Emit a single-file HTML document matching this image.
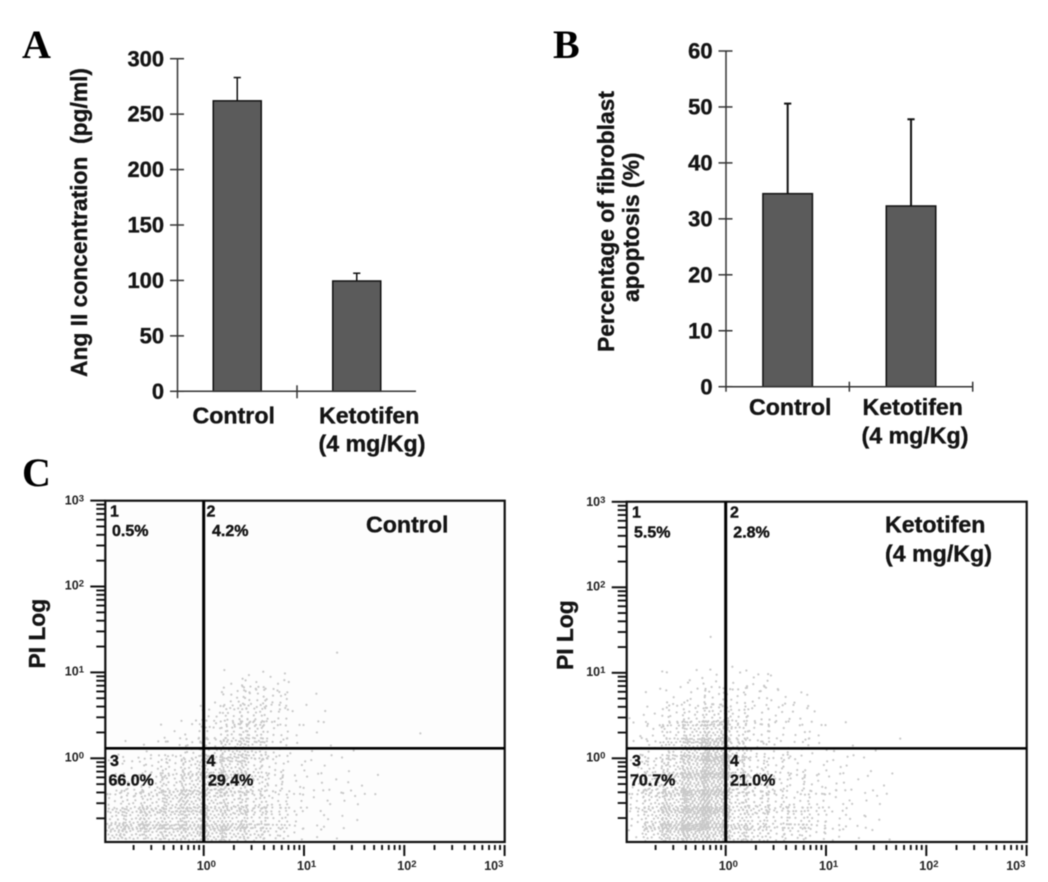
<!DOCTYPE html>
<html lang="en">
<head>
<meta charset="utf-8">
<title>Ang II concentration, fibroblast apoptosis and flow cytometry</title>
<style>
html,body{margin:0;padding:0;background:#fff;width:1048px;height:882px;overflow:hidden}
svg{display:block;filter:blur(0.45px)}
text{font-family:"Liberation Sans",Arial,sans-serif;fill:#141414;white-space:pre}
.panel{font-family:"Liberation Serif","Times New Roman",serif;font-weight:bold;font-size:40px;fill:#000}
.tick{font-weight:bold;font-size:21.9px;stroke:#141414;stroke-width:.35px}
.cat{font-weight:bold;font-size:23.2px;stroke:#141414;stroke-width:.35px}
.title{font-weight:bold;font-size:22.8px;stroke:#141414;stroke-width:.35px}
.q{font-weight:bold;font-size:16px;stroke:#141414;stroke-width:.4px}
.log{font-weight:bold;font-size:12.5px;fill:#222}
.sup{font-size:9.5px}
</style>
</head>
<body>
<svg id="figure" xmlns="http://www.w3.org/2000/svg" width="1048" height="882" viewBox="0 0 1048 882">
  <rect width="1048" height="882" fill="#fff"/>

  <text class="panel" x="22" y="58">A</text>
  <text class="panel" x="553" y="58">B</text>
  <text class="panel" x="22" y="486">C</text>

  <g id="chart-a">
    <text class="title" transform="translate(87 377) rotate(-90)">Ang II concentration  (pg/ml)</text>
    <text class="cat" x="192.5" y="423.5">Control</text>
    <text class="cat" x="319" y="423.5">Ketotifen</text>
    <text class="cat" x="318.5" y="451.5">(4 mg/Kg)</text>
  </g>

  <g id="chart-b">
    <text class="title" transform="translate(614 352) rotate(-90)">Percentage of fibroblast</text>
    <text class="title" transform="translate(639 302) rotate(-90)">apoptosis (%)</text>
    <text class="cat" x="749" y="415">Control</text>
    <text class="cat" x="862.5" y="415">Ketotifen</text>
    <text class="cat" x="861.5" y="443.5">(4 mg/Kg)</text>
  </g>

  <g id="scatter-control"></g>
  <g id="scatter-keto"></g>
</svg>

<script>
// ---------- bar chart data ----------
const barCategories = ["Control", "Ketotifen"];
const angTicks = [0, 50, 100, 150, 200, 250, 300];
const angValues = [262, 99.5];
const angErrors = [21, 7];
const apoTicks = [0, 10, 20, 30, 40, 50, 60];
const apoValues = [34.5, 32.3];
const apoErrors = [16.1, 15.5];

// ---------- flow cytometry data ----------
// Percentages as printed in each quadrant
const controlQuadrants = ["0.5%", "4.2%", "66.0%", "29.4%"];
const ketoQuadrants = ["5.5%", "2.8%", "70.7%", "21.0%"];
const quadrantIds = ["1", "2", "3", "4"];
const decadeTicks = [0, 1, 2, 3];
const minorMultipliers = [2, 3, 4, 5, 6, 7, 8, 9];
const gateLogX = 0;
const gateLogY = 0.116;
const densityStartLog = -1;
const densityBinLog = 0.2;
// Estimated event counts per 0.2-decade cell. Rows run bottom to top, columns left to right.
const controlDensity = [
  [50,40,45,50,55,60,45,40,22, 9, 3, 2, 0, 0, 0],
  [32,36,40,45,48,52,38,32,18, 8, 3, 3, 1, 0, 0],
  [16,24,32,40,48,42,34,26,15, 8, 5, 3, 3, 1, 0],
  [ 8,12,20,28,42,38,40,24,12, 6, 4, 4, 4, 1, 0],
  [ 5, 8,12,18,34,30,44,26,12, 5, 3, 2, 2, 0, 0],
  [ 1, 3, 6, 9,15,20,42,36,11, 3, 2, 1, 1, 0, 0],
  [ 0, 0, 1, 3, 6,12,24,28,13, 2, 2, 0, 0, 0, 0],
  [ 0, 0, 0, 0, 2, 9,20,24,13, 2, 2, 0, 0, 0, 0],
  [ 0, 0, 0, 0, 0, 3,14,18,14, 2, 1, 0, 0, 0, 0],
  [ 0, 0, 0, 0, 0, 0, 3, 7, 6, 1, 0, 0, 0, 0, 0]
];
const ketoDensity = [
  [ 6,36,65,90,80,44,30,20,20,14, 7, 2, 1, 0, 0],
  [12,40,65,100,90,38,26,20,20,14, 8, 4, 3, 0, 0],
  [16,38,55,85,85,34,26,18,12,11, 7, 3, 3, 0, 0],
  [12,32,48,75,90,34,20,15, 9, 9, 6, 4, 2, 0, 0],
  [ 9,26,40,65,100,28,18,12, 8, 5, 5, 3, 2, 1, 0],
  [ 5,14,28,55,90,28,12, 9, 7, 4, 2, 1, 1, 0, 0],
  [ 4, 9,22,40,55,28,12, 8, 6, 4, 1, 0, 0, 0, 0],
  [ 3, 6,12,18,30,18, 9, 7, 6, 2, 0, 0, 0, 0, 0],
  [ 1, 3, 6, 9,12,12, 9, 6, 3, 1, 0, 0, 0, 0, 0],
  [ 0, 1, 2, 3, 5, 5, 7, 3, 0, 0, 0, 0, 0, 0, 0],
  [ 0, 0, 0, 0, 1, 2, 1, 0, 0, 0, 0, 0, 0, 0, 0]
];
// Isolated events, as [log x, log y]
const controlOutliers = [[1.33, 1.23], [2.16, 0.29]];
const ketoOutliers = [[-0.15, 1.42], [1.74, 0.23]];

const NS = "http://www.w3.org/2000/svg";
function mk(tag, attrs, parent, txt) {
  const el = document.createElementNS(NS, tag);
  for (const k in attrs) el.setAttribute(k, attrs[k]);
  if (txt !== undefined) el.textContent = txt;
  parent.appendChild(el);
  return el;
}

function drawBars(host, suffix, o, ticks, values, errors) {
  const g = document.getElementById(host);
  const y = v => o.y0 - (v / ticks[ticks.length - 1]) * (o.y0 - o.yTop);
  const band = (o.xEnd - o.x0) / barCategories.length;
  const cx = i => o.x0 + band * (i + 0.5);

  barCategories.forEach((name, i) => {
    const top = y(values[i]);
    const errTop = y(values[i] + errors[i]);
    const stem = mk("line", {x1: cx(i), x2: cx(i), y1: top, y2: errTop, stroke: "#111", "stroke-width": o.err}, g);
    
    
    const cap = mk("line", {x1: cx(i) - 3.6, x2: cx(i) + 3.6, y1: errTop, y2: errTop, stroke: "#111", "stroke-width": o.err}, g);
    
    
    const bar = mk("rect", {x: cx(i) - o.bw / 2, y: top, width: o.bw, height: o.y0 - top, fill: "#5b5b5b", stroke: "#111", "stroke-width": 1.5}, g);
    
    
  });

  const yAxis = mk("line", {x1: o.x0, x2: o.x0, y1: y(ticks[ticks.length - 1]), y2: o.y0 + o.tickDown, stroke: "#333", "stroke-width": 1.5}, g);
  
  
  const xAxis = mk("line", {x1: o.x0, x2: o.xAxisEnd, y1: o.y0, y2: o.y0, stroke: "#333", "stroke-width": 1.5}, g);
  
  

  ticks.forEach(t => {
    const mark = mk("line", {x1: o.x0 - 7.5, x2: o.x0 + 6.5, y1: y(t), y2: y(t), stroke: "#333", "stroke-width": 1.5}, g);
    
    
    const label = mk("text", {class: "tick", x: o.x0 - 13.5, y: y(t) + 7.6, "text-anchor": "end"}, g, String(t));
    
    
  });

  for (let i = 1; i <= barCategories.length; i++) {
    if (i === barCategories.length && !o.endTick) continue;
    const px = o.x0 + band * i;
    const mark = mk("line", {x1: px, x2: px, y1: o.y0 - o.tickUp, y2: o.y0 + o.tickDown, stroke: "#333", "stroke-width": 1.5}, g);
    
    
  }
}

drawBars("chart-a", "a", {x0: 177.5, xEnd: 416.5, xAxisEnd: 416, y0: 391.3, yTop: 58.7, bw: 48, err: 1.5, tickUp: 6, tickDown: 7, endTick: false}, angTicks, angValues, angErrors);
drawBars("chart-b", "b", {x0: 726, xEnd: 972.7, xAxisEnd: 972.7, y0: 386.7, yTop: 51, bw: 49.5, err: 2, tickUp: 5, tickDown: 5, endTick: true}, apoTicks, apoValues, apoErrors);

function drawLogTickLabel(g, x, y, exp, name) {
  const t = mk("text", {class: "log", x: x, y: y}, g);
  
  
  mk("tspan", {}, t, "10");
  mk("tspan", {class: "sup", dy: -3}, t, String(exp));
}

function drawScatter(host, prefix, o, density, outliers, quadrants) {
  const g = document.getElementById(host);
  const X = v => o.xOrigin + v * o.xDecade;
  const Y = v => o.yOrigin - v * o.yDecade;

  const frameBg = mk("rect", {x: o.left, y: o.top, width: o.right - o.left, height: o.bottom - o.top, fill: o.bg}, g);
  
  

  // Each cell's estimated count sets the number of dots. Dots spread evenly over the cell
  // and slightly past its edges; the phase differs per cell so cells do not form bands.
  density.forEach((row, r) => {
    row.forEach((count, c) => {
      const phaseU = r * r * 0.317 + c * c * 0.571 + r * c * 0.193;
      const phaseV = r * r * 0.629 + c * c * 0.283 + r * c * 0.457;
      for (let k = 0; k < count; k++) {
        const u = (0.7549 * (k + 1) + phaseU) % 1;
        const v = (0.5698 * (k + 1) + phaseV) % 1;
        const lx = densityStartLog + (c + u * 1.4 - 0.2) * densityBinLog;
        const ly = densityStartLog + (r + v * 1.4 - 0.2) * densityBinLog;
        if (X(lx) <= o.left + 1 || Y(ly) >= o.bottom - 1) continue;
        const dot = mk("circle", {cx: X(lx), cy: Y(ly), r: 1.1, fill: "#c8c8c8"}, g);
        
        
      }
    });
  });
  outliers.forEach(p => {
    const dot = mk("circle", {cx: X(p[0]), cy: Y(p[1]), r: 1.1, fill: "#c8c8c8"}, g);
    
    
  });

  const frame = mk("rect", {x: o.left, y: o.top, width: o.right - o.left, height: o.bottom - o.top, fill: "none", stroke: "#111", "stroke-width": 2.2}, g);
  
  
  const gateV = mk("line", {x1: X(gateLogX), x2: X(gateLogX), y1: o.top, y2: o.bottom, stroke: "#000", "stroke-width": 3}, g);
  
  
  const gateH = mk("line", {x1: o.left, x2: o.right, y1: Y(gateLogY), y2: Y(gateLogY), stroke: "#000", "stroke-width": 2.6}, g);
  
  

  // log axes: the lowest decade (10^-1) carries minor ticks only
  [-1].concat(decadeTicks).forEach(d => {
    if (d >= 0) {
      const my = mk("line", {x1: o.left - 15, x2: o.left, y1: Y(d), y2: Y(d), stroke: "#111", "stroke-width": 2}, g);
      
      
      const mx = mk("line", {x1: X(d), x2: X(d), y1: o.bottom + 3, y2: o.bottom + 14, stroke: "#111", "stroke-width": 2}, g);
      
      
      drawLogTickLabel(g, o.left - 40.5, Y(d) + 4 - (d === 3 ? 0 : 1), d, prefix + '-y-tick-label-' + d);
      drawLogTickLabel(g, Math.min(X(d) - 7, o.right - 20.5), o.bottom + 28, d, prefix + '-x-tick-label-' + d);
    }
    if (d < 3) {
      minorMultipliers.forEach(m => {
        const off = Math.log10(m);
        const my = mk("line", {x1: o.left - 9, x2: o.left, y1: Y(d + off), y2: Y(d + off), stroke: "#111", "stroke-width": 1.9}, g);
        
        
        const mx = mk("line", {x1: X(d + off), x2: X(d + off), y1: o.bottom + 3, y2: o.bottom + 8, stroke: "#111", "stroke-width": 1.9}, g);
        
        
      });
    }
  });

  const title = mk("text", {class: "title", transform: "translate(" + o.titleX + " " + o.titleY + ") rotate(-90)"}, g, "PI Log");
  
  

  quadrantIds.forEach((id, i) => {
    const idLabel = mk("text", {class: "q", x: o.idX[i % 2], y: i < 2 ? o.idY[0] : o.idY[1]}, g, id);
    
    
    const pct = mk("text", {class: "q", x: o.pctX[i], y: i < 2 ? o.pctY[0] : o.pctY[1]}, g, quadrants[i]);
    
    
  });

  o.heading.forEach((line, i) => {
    const h = mk("text", {class: "cat", x: o.headingX, y: o.headingY + i * 29}, g, line);
    
    
  });
}

drawScatter("scatter-control", "control", {
  left: 105.3, right: 504.7, top: 500.7, bottom: 842,
  xOrigin: 203.7, xDecade: 100.3, yOrigin: 758.3, yDecade: 85.9, bg: "#fdfdfd",
  titleX: 45, titleY: 668.5,
  idX: [110, 206.5], idY: [516.7, 766],
  pctX: [112, 212, 108.5, 208], pctY: [536, 785.5],
  heading: ["Control"], headingX: 366, headingY: 532.5
}, controlDensity, controlOutliers, controlQuadrants);

drawScatter("scatter-keto", "ketotifen", {
  left: 626.7, right: 1026.7, top: 501.7, bottom: 842,
  xOrigin: 725.7, xDecade: 100.3, yOrigin: 758.3, yDecade: 85.5, bg: "#ffffff",
  titleX: 573, titleY: 670,
  idX: [632, 730], idY: [517.5, 766],
  pctX: [634, 733.3, 630, 730], pctY: [537.3, 785.7],
  heading: ["Ketotifen", "(4 mg/Kg)"], headingX: 885, headingY: 532.7
}, ketoDensity, ketoOutliers, ketoQuadrants);
</script>
</body>
</html>
